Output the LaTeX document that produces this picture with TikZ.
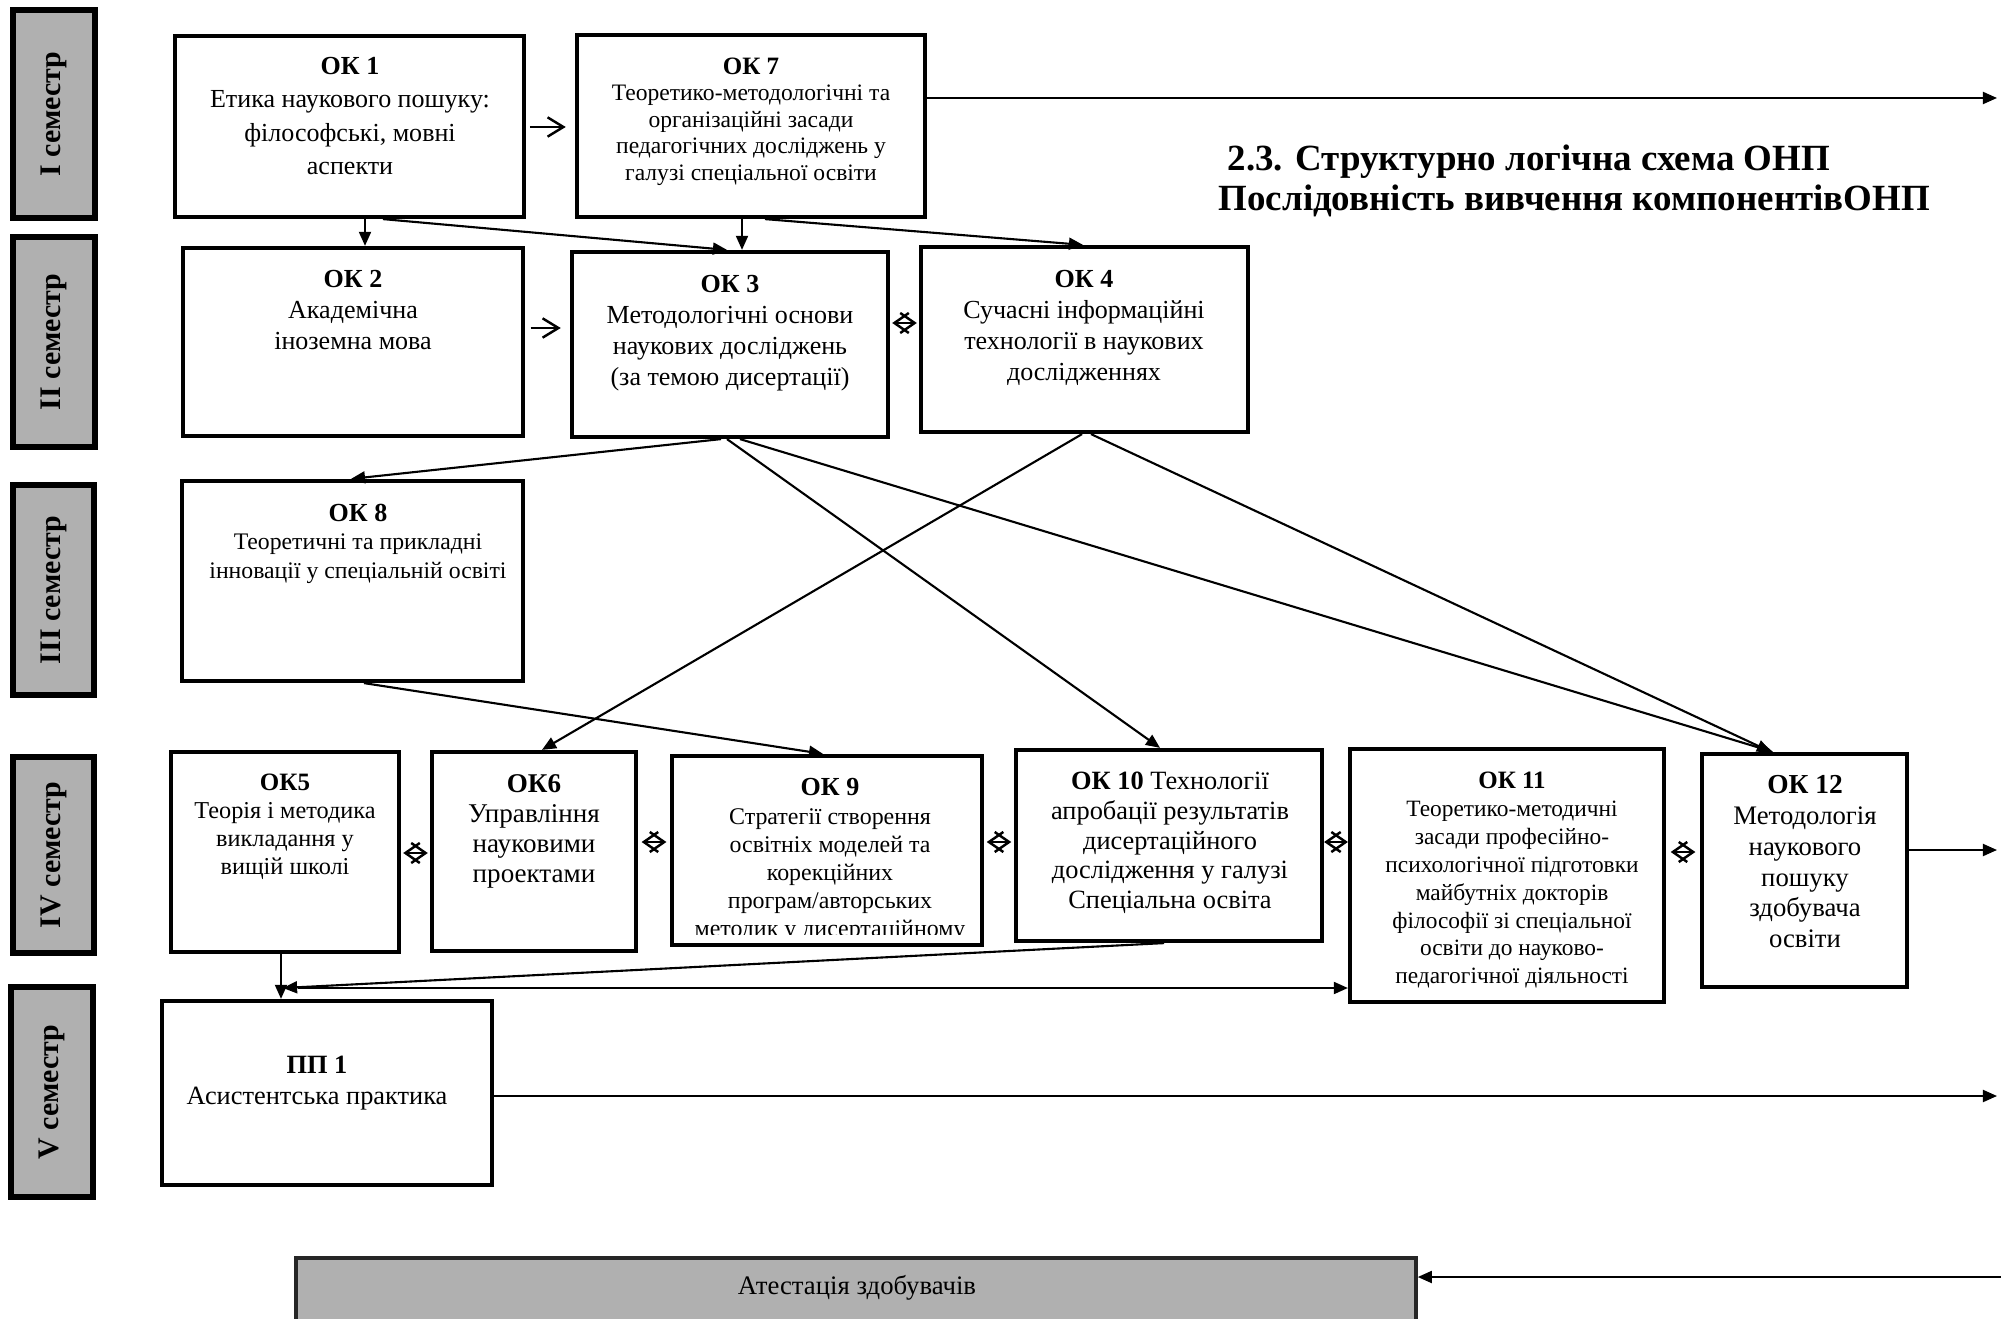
\documentclass[tikz,border=0pt]{standalone}
\usepackage{fontspec}
\setmainfont{Liberation Serif}
\usetikzlibrary{arrows.meta,fit,calc,positioning}

\newcommand{\setfs}[2]{\fontsize{#1}{#2}\selectfont}

\tikzset{
  box/.style={draw, line width=1.2pt, inner sep=0pt},
  sem/.style={draw, line width=1.5pt, fill=gray!62, inner sep=0pt},
  semtxt/.style={rotate=90, font=\bfseries\setfs{8.5}{10}, inner sep=0pt},
  txt/.style={align=center, inner sep=0pt, anchor=north},
  arr/.style={-{Triangle[length=4pt,width=3.4pt]}, line width=0.6pt},
  barb/.style={-{Straight Barb[length=4.5pt,width=5.5pt]}, line width=0.7pt},
  bidir/.style={{Straight Barb[length=4.1pt,width=5.7pt]}-{Straight Barb[length=4.1pt,width=5.7pt]},
    line width=0.7pt, shorten <=#1, shorten >=#1},
}

\begin{document}
\begin{tikzpicture}[x=0.01cm, y=-0.01cm]
		\useasboundingbox (0,0) rectangle (2001,1319);

		% Semester labels
		\node[sem, fit={(13,10)(95,218)}] (s1) {};
		\node[semtxt] (s1t) at (s1.center) {I семестр};
		\node[sem, fit={(13,237)(95,447)}] (s2) {};
		\node[semtxt] (s2t) at (s2.center) {II семестр};
		\node[sem, fit={(13,485)(94,695)}] (s3) {};
		\node[semtxt] (s3t) at (s3.center) {III семестр};
		\node[sem, fit={(13,757)(94,953)}] (s4) {};
		\node[semtxt] (s4t) at (s4.center) {IV семестр};
		\node[sem, fit={(11,987)(93,1197)}] (s5) {};
		\node[semtxt] (s5t) at (s5.center) {V семестр};

		% Title
		\node[anchor=base west, inner sep=0pt, font=\bfseries\setfs{10.5}{12}] (title1) at (1227,171)
			{2.3. Структурно логічна схема ОНП};
		\node[anchor=base west, inner sep=0pt, font=\bfseries\setfs{10.5}{12}] (title2) at (1218,211)
			{Послідовність вивчення компонентівОНП};

		% Draw the boxes
		\node[box, fit={(175,36)(524,217)}] (ok1) {};
		\node[box, fit={(577,35)(925,217)}] (ok7) {};
		\node[box, fit={(183,248)(523,436)}] (ok2) {};
		\node[box, fit={(572,252)(888,437)}] (ok3) {};
		\node[box, fit={(921,247)(1248,432)}] (ok4) {};
		\node[box, fit={(182,481)(523,681)}] (ok8) {};
		\node[box, fit={(171,752)(399,952)}] (ok5) {};
		\node[box, fit={(432,752)(636,951)}] (ok6) {};
		\node[box, fit={(672,756)(982,945)}] (ok9) {};
		\node[box, fit={(1016,750)(1322,941)}] (ok10) {};
		\node[box, fit={(1350,749)(1664,1002)}] (ok11) {};
		\node[box, fit={(1702,754)(1907,987)}] (ok12) {};
		\node[box, fit={(162,1001)(492,1185)}] (pp1) {};
		\node[draw=black!85, line width=1pt, fill=gray!62, inner sep=0pt, fit={(296,1258)(1416,1340)}] (attest) {};

		% Texts in the boxes
		\node[txt, font=\setfs{7.4}{9.4}] (ok1t) at (350,57)
			{\textbf{ОК 1}\\Етика наукового пошуку:\\філософські, мовні\\аспекти};
		\node[txt, font=\setfs{6.7}{7.55}] (ok7t) at (751,57)
			{{\bfseries\setfs{7.1}{7.55}ОК 7}\\Теоретико-методологічні та\\організаційні засади\\педагогічних досліджень у\\галузі спеціальної освіти};
		\node[txt, font=\setfs{7.4}{8.8}] (ok2t) at (353,270)
			{\textbf{ОК 2}\\Академічна\\іноземна мова};
		\node[txt, font=\setfs{7.4}{8.8}] (ok3t) at (730,275)
			{\textbf{ОК 3}\\Методологічні основи\\наукових досліджень\\(за темою дисертації)};
		\node[txt, font=\setfs{7.4}{8.8}] (ok4t) at (1084,270)
			{\textbf{ОК 4}\\Сучасні інформаційні\\технології в наукових\\дослідженнях};
		\node[txt, font=\setfs{6.75}{8.2}] (ok8t) at (358,503)
			{{\bfseries\setfs{7.4}{8.2}ОК 8}\\Теоретичні та прикладні\\інновації у спеціальній освіті};
		\node[txt, font=\setfs{6.9}{8.0}] (ok5t) at (285,773)
			{{\bfseries\setfs{7.1}{8.0}ОК5}\\Теорія і методика\\викладання у\\вищій школі};
		\node[txt, font=\setfs{7.7}{8.5}] (ok6t) at (534,774)
			{\textbf{ОК6}\\Управління\\науковими\\проектами};
		\begin{scope}
			\clip (672,756) rectangle (982,934);
			\node[txt, font=\setfs{6.8}{8.0}] (ok9t) at (830,778)
				{{\bfseries\setfs{7.4}{8.0}ОК 9}\\Стратегії створення\\освітніх моделей та\\корекційних\\програм/авторських\\методик у дисертаційному};
		\end{scope}
		\node[txt, font=\setfs{7.5}{8.5}] (ok10t) at (1170,771)
			{\textbf{ОК 10} Технології\\апробації результатів\\дисертаційного\\дослідження у галузі\\Спеціальна освіта};
		\node[txt, font=\setfs{6.65}{7.95}] (ok11t) at (1512,771)
			{{\bfseries\setfs{7.1}{7.95}ОК 11}\\Теоретико-методичні\\засади професійно-\\психологічної підготовки\\майбутніх докторів\\філософії зі спеціальної\\освіти до науково-\\педагогічної діяльності};
		\node[txt, font=\setfs{7.6}{8.75}] (ok12t) at (1805,775)
			{{\bfseries\setfs{7.8}{8.75}ОК 12}\\Методологія\\наукового\\пошуку\\здобувача\\освіти};
		\node[txt, font=\setfs{7.5}{9.0}] (pp1t) at (317,1055)
			{\textbf{ПП 1}\\Асистентська практика};
		\node[inner sep=0pt, font=\setfs{7.6}{9}] (attestt) at (857,1288) {Атестація здобувачів};

		% Arrows between the boxes of I and II semester
		\draw[barb, shorten <=1.1pt, shorten >=2.6pt] (ok1.east |- 0,127) -- (ok7.west |- 0,127);
		\draw[barb, shorten <=1.6pt, shorten >=2.6pt] (ok2.east |- 0,328) -- (ok3.west |- 0,328);
		\draw[bidir=0.6pt] (ok3.east |- 0,323) -- (ok4.west |- 0,323);
		\draw[arr] (ok1.south -| 365,0) -- (ok2.north -| 365,0);
		\draw[arr] (ok1.south -| 383,0) -- (ok3.north -| 727,0);
		\draw[arr] (ok7.south -| 742,0) -- (ok3.north -| 742,0);
		\draw[arr] (ok7.south -| 765,0) -- (ok4.north -| 1083,0);

		% Arrows down to III and IV semester
		\draw[arr] (ok3.south -| 721,0) -- (ok8.north -| 351,0);
		\draw[arr] (ok3.south -| 727,0) -- (ok10.north -| 1160,0);
		\draw[arr] (ok3.south -| 740,0) -- (ok12.north -| 1773,0);
		\draw[arr] (ok4.south -| 1082,0) -- (ok6.north -| 542,0);
		\draw[arr] (ok4.south -| 1091,0) -- (ok12.north -| 1771,0);
		\draw[arr] (ok8.south -| 364,0) -- (ok9.north -| 823,0);

		% Links inside IV semester
		\draw[bidir=0.6pt] (ok5.east |- 0,853) -- (ok6.west |- 0,853);
		\draw[bidir=1.0pt] (ok6.east |- 0,842) -- (ok9.west |- 0,842);
		\draw[bidir=0.75pt] (ok9.east |- 0,842) -- (ok10.west |- 0,842);
		\draw[bidir=0pt] (ok10.east |- 0,842) -- (ok11.west |- 0,842);
		\draw[bidir=1.3pt] (ok11.east |- 0,852) -- (ok12.west |- 0,852);

		% Down to V semester
		\coordinate (jn) at (283,988);
		\draw[arr] (ok5.south -| 281,0) -- (pp1.north -| 281,0);
		\draw[arr] (ok10.south -| 1164,0) -- (jn);
		\draw[arr] ($(jn)+(15,0)$) -- (ok11.west |- jn);

		% Long lines to the right edge
		\coordinate (e1) at (1997,98);
		\coordinate (e2) at (1997,850);
		\coordinate (e3) at (1997,1096);
		\coordinate (e4) at (2001,1277);
		\draw[arr] (ok7.east |- e1) -- (e1);
		\draw[arr] (ok12.east |- e2) -- (e2);
		\draw[arr] (pp1.east |- e3) -- (e3);
		\draw[arr] (e4) -- (attest.east |- e4);

	\end{tikzpicture}
\end{document}
